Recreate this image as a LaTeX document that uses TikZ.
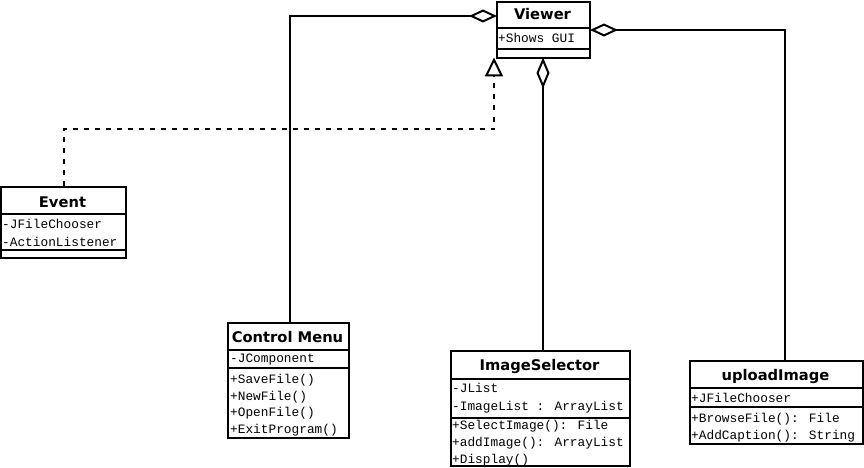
\documentclass[tikz,border=0pt]{standalone}
\usepackage{fontspec}
\newfontfamily\titlefnt{DejaVu Sans}
\newfontfamily\codefnt{Liberation Mono}
\usetikzlibrary{arrows.meta}
\begin{document}
\begin{tikzpicture}[x=1pt,y=-1pt,
  umlbox/.style={draw, line width=2pt, inner sep=0pt, anchor=north west},
  sepline/.style={line width=2pt},
  ttl/.style={font=\titlefnt\bfseries\fontsize{14.7}{17}\selectfont, inner sep=0pt, anchor=base},
  code/.style={font=\codefnt\fontsize{12.8}{15}\selectfont, inner sep=0pt, anchor=base west},
  conn/.style={line width=2pt},
  agg/.style={conn, -{Diamond[open, length=28pt, width=13pt]}},
  aggv/.style={conn, {Diamond[open, length=31pt, width=13pt]}-},
  inh/.style={conn, dash pattern=on 5pt off 6pt, -{Triangle[open, length=19pt, width=18pt]}}
]
\useasboundingbox (0,0) rectangle (864,468);

% Viewer
\node[umlbox, minimum width=93pt, minimum height=56pt] (viewer) at (496,1) {};
\draw[sepline] (496,28) -- (589,28);
\draw[sepline] (496,49) -- (589,49);
\node[ttl] (viewert) at (542.5,20) {Viewer};
\node[code] (viewera) at (498,43) {+Shows GUI};

% Event
\node[umlbox, minimum width=125pt, minimum height=71pt] (ev) at (0,186) {};
\draw[sepline] (0,214) -- (125,214);
\draw[sepline] (0,250) -- (125,250);
\node[ttl] (evt) at (62.5,207) {Event};
\node[code] (eva1) at (2,228) {-JFileChooser};
\node[code] (eva2) at (2,246) {-ActionListener};

% Control Menu
\node[umlbox, minimum width=121pt, minimum height=115pt] (cm) at (227,322) {};
\draw[sepline] (227,350) -- (348,350);
\draw[sepline] (227,368) -- (348,368);
\node[ttl] (cmt) at (287.5,342) {Control Menu};
\node[code] (cma1) at (230,362) {-JComponent};
\node[code] (cmm1) at (230,383) {+SaveFile()};
\node[code] (cmm2) at (230,400) {+NewFile()};
\node[code] (cmm3) at (230,416.5) {+OpenFile()};
\node[code] (cmm4) at (230,433) {+ExitProgram()};

% ImageSelector
\node[umlbox, minimum width=179pt, minimum height=115pt] (is) at (450,350) {};
\draw[sepline] (450,379) -- (629,379);
\draw[sepline] (450,418) -- (629,418);
\node[ttl] (ist) at (539.5,370) {ImageSelector};
\node[code] (isa1) at (452,392) {-JList};
\node[code] (isa2) at (452,410) {-ImageList : ArrayList};
\node[code] (ism1) at (452,429) {+SelectImage(): File};
\node[code] (ism2) at (452,446) {+addImage(): ArrayList};
\node[code] (ism3) at (452,463) {+Display()};

% uploadImage
\node[umlbox, minimum width=173pt, minimum height=83pt] (up) at (689,360) {};
\draw[sepline] (689,388) -- (862,388);
\draw[sepline] (689,407) -- (862,407);
\node[ttl] (upt) at (775.5,380) {uploadImage};
\node[code] (upa1) at (691,402) {+JFileChooser};
\node[code] (upm1) at (691,422) {+BrowseFile(): File};
\node[code] (upm2) at (691,439) {+AddCaption(): String};

% connectors
\coordinate (vleft) at ([xshift=1pt,yshift=14pt]viewer.west);
\coordinate (vright) at ([xshift=-1pt]viewer.east);
\coordinate (vbot) at ([xshift=-49.5pt,yshift=1.5pt]viewer.south);
\coordinate (vmid) at ([xshift=-0.5pt,yshift=1.5pt]viewer.south);
\draw[agg] ([xshift=1.5pt]cm.north) |- (vleft);
\draw[agg] ([xshift=8.5pt]up.north) |- (vright);
\draw[aggv] (vmid) -- (vmid |- is.north);
\draw[inh] (ev.north) -- ++(0,-57) -| (vbot);
\end{tikzpicture}
\end{document}
